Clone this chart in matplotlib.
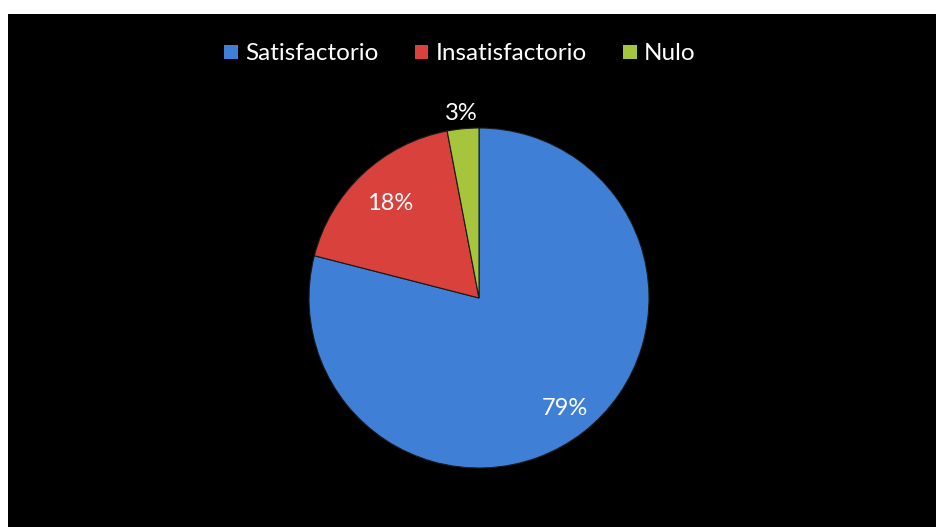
import numpy as np
import matplotlib.pyplot as plt
from matplotlib.patches import Rectangle

categories = ['Satisfactorio', 'Insatisfactorio', 'Nulo']
values = [79, 18, 3]
labels = ['79%', '18%', '3%']
colors = ['#3f80d6', '#d8413c', '#a5c63c']

plt.rcParams['font.family'] = ['Lato', 'DejaVu Sans']

fig = plt.figure(figsize=(9.37, 5.27), dpi=100, facecolor='white')

# black chart area, white margin on left and top only
bg = fig.add_axes([8 / 937, 0, 1 - 8 / 937, 1 - 14 / 527])
bg.set_facecolor('black')
bg.set_xticks([])
bg.set_yticks([])
for s in bg.spines.values():
    s.set_visible(False)

# pie
r = 170
cx, cy = 479, 527 - 298
ax = fig.add_axes([(cx - r) / 937, (cy - r) / 527, 2 * r / 937, 2 * r / 527])
wedges, _ = ax.pie(values, colors=colors, startangle=90, counterclock=False,
                   wedgeprops=dict(edgecolor='#1a1a1a', linewidth=0.8))
ax.set_xlim(-1, 1)
ax.set_ylim(-1, 1)
ax.set_aspect('equal')
ax.axis('off')

# percent labels, each at its own distance from the centre
dists = [0.82, 0.76, 1.09]
for w, lab, d in zip(wedges, labels, dists):
    ang = np.deg2rad((w.theta1 + w.theta2) / 2)
    ax.text(d * np.cos(ang), d * np.sin(ang), lab, color='white',
            fontsize=17, ha='center', va='center', clip_on=False)

# legend
handles = [Rectangle((0, 0), 1, 1, facecolor=c, edgecolor='none') for c in colors]
fig.legend(handles, categories, loc='center', bbox_to_anchor=(460 / 937, 1 - 54 / 527),
           ncol=3, frameon=False, fontsize=17.5, labelcolor='white',
           handlelength=0.55, handleheight=0.55, handletextpad=0.3, columnspacing=1.5)

fig.savefig('out.png', dpi=100, facecolor='white')
